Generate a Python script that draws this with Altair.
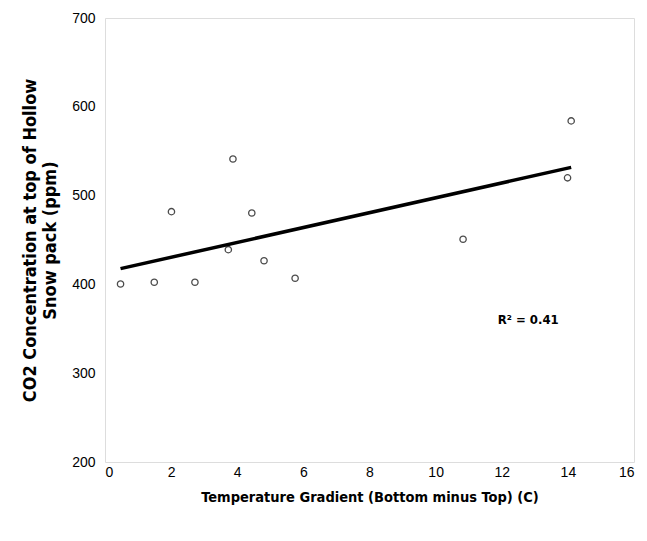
import altair as alt
import pandas as pd

temp_gradient = [0.47, 1.49, 2.01, 2.72, 3.73, 3.87, 4.44, 4.81, 5.75, 10.83, 13.99, 14.10]
co2_ppm = [400.5, 402.4, 481.9, 402.4, 439.1, 541.2, 480.4, 426.7, 406.9, 450.8, 520.0, 584.1]
r2_label = ["R\u00b2 = 0.41"]
r2_pos_x = [12.8]
r2_pos_y = [360]

df = pd.DataFrame({"x": temp_gradient, "y": co2_ppm})
ann = pd.DataFrame({"x": r2_pos_x, "y": r2_pos_y, "t": r2_label})

FONT = "DejaVu Sans Condensed, Liberation Sans, Arial"
LFONT = "Liberation Sans, Arial"

xs = alt.Scale(domain=[0, 16], nice=False, zero=False)
ys = alt.Scale(domain=[200, 700], nice=False, zero=False)

xax = alt.Axis(values=list(range(0, 17, 2)), grid=False, ticks=False, domain=False,
               labelFont=LFONT, labelFontSize=14, labelPadding=3, labelColor="black",
               title="Temperature Gradient (Bottom minus Top) (C)",
               titleFont=FONT, titleFontSize=14.5, titleFontWeight="bold", titleColor="black",
               titlePadding=11)
yax = alt.Axis(values=list(range(200, 701, 100)), grid=False, ticks=False, domain=False,
               labelFont=LFONT, labelFontSize=14, labelPadding=10, labelColor="black",
               title=["CO2 Concentration at top of Hollow", "Snow pack (ppm)"],
               titleFont=FONT, titleFontSize=18, titleFontWeight="bold", titleColor="black",
               titlePadding=12)

pts = alt.Chart(df).mark_point(shape="circle", filled=False, color="black", size=40, strokeWidth=1.3).encode(
    x=alt.X("x:Q", scale=xs, axis=xax),
    y=alt.Y("y:Q", scale=ys, axis=yax),
)

reg = alt.Chart(df).transform_regression("x", "y").mark_line(color="black", strokeWidth=3.5).encode(
    x=alt.X("x:Q", scale=xs),
    y=alt.Y("y:Q", scale=ys),
)

txt = alt.Chart(ann).mark_text(font=FONT, fontSize=13, fontWeight="bold", color="black").encode(
    x=alt.X("x:Q", scale=xs),
    y=alt.Y("y:Q", scale=ys),
    text="t:N",
)

chart = (reg + pts + txt).properties(
    width=529, height=444,
    autosize=alt.AutoSizeParams(type="none"),
    padding={"left": 97, "top": 10, "right": 5, "bottom": 70},
).configure_view(stroke="black", strokeWidth=1.5).configure(background="white")

chart.save("out.html", embed_options={"renderer": "svg", "actions": False})
